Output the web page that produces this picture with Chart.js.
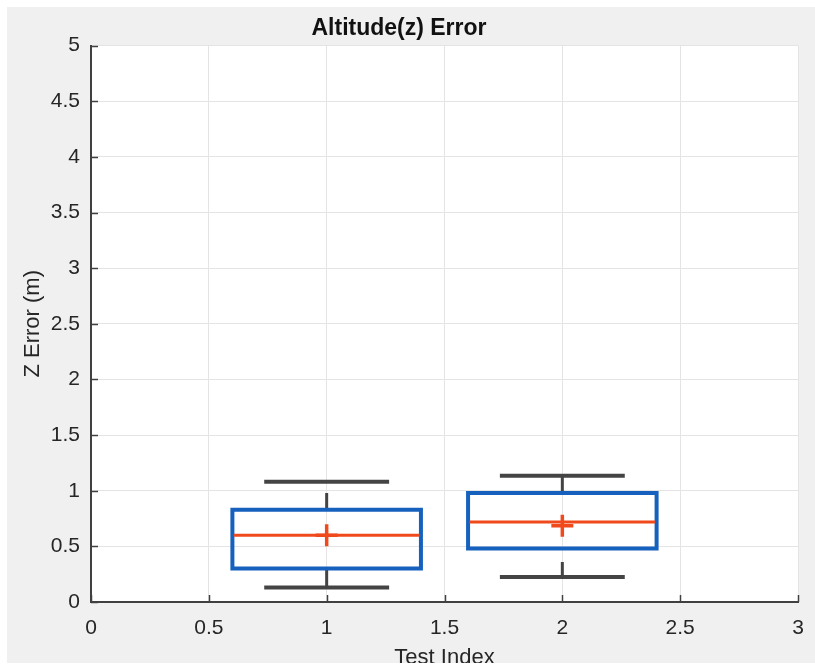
<!DOCTYPE html>
<html>
<head>
<meta charset="utf-8">
<title>Altitude(z) Error</title>
<script src="https://cdn.jsdelivr.net/npm/chart.js@4.4.1/dist/chart.umd.min.js"></script>
<style>
  html, body { margin: 0; padding: 0; background: #ffffff; }
  #wrap { width: 815px; height: 667px; }
</style>
</head>
<body>
<div id="wrap"><canvas id="altChart" width="815" height="667"></canvas></div>
<script>
// Datos de las pruebas
const testIndex = [1, 2];
const q1Values = [0.30, 0.48];
const q3Values = [0.83, 0.98];
const medianValues = [0.60, 0.72];
const meanValues = [0.60, 0.685];
const capLow = [0.13, 0.225];
const capHigh = [1.08, 1.135];
const upperStemTop = [0.98, 1.135];
const lowerStemTop = [0.30, 0.36];
const xTickLabels = ['0', '0.5', '1', '1.5', '2', '2.5', '3'];
const yTickLabels = ['0', '0.5', '1', '1.5', '2', '2.5', '3', '3.5', '4', '4.5', '5'];

// Estilos
const BOX_HALF = 0.4;
const CAP_HALF = 0.265;
const BLUE = '#1660BE';
const ORANGE = '#F04A1C';
const DARK = '#444444';
const TEXT = '#262626';

function seg(x1, y1, x2, y2) {
    return [{ x: x1, y: y1 }, { x: x2, y: y2 }];
}

function lineSet(data, color, width, order, cap) {
    return {
        type: 'scatter',
        data: data,
        showLine: true,
        borderColor: color,
        backgroundColor: color,
        borderWidth: width,
        pointRadius: 0,
        pointHoverRadius: 0,
        borderCapStyle: cap || 'butt',
        borderJoinStyle: 'miter',
        order: order
    };
}

const datasets = [];

testIndex.forEach((t, i) => {
    // caja
    datasets.push(lineSet([
        { x: t - BOX_HALF, y: q1Values[i] },
        { x: t + BOX_HALF, y: q1Values[i] },
        { x: t + BOX_HALF, y: q3Values[i] },
        { x: t - BOX_HALF, y: q3Values[i] },
        { x: t - BOX_HALF, y: q1Values[i] }
    ], BLUE, 4, 3, 'square'));
    // bigotes
    datasets.push(lineSet(seg(t, q3Values[i], t, upperStemTop[i]), DARK, 3, 4));
    datasets.push(lineSet(seg(t, capLow[i], t, lowerStemTop[i]), DARK, 3, 4));
    datasets.push(lineSet(seg(t - CAP_HALF, capHigh[i], t + CAP_HALF, capHigh[i]), DARK, 4, 4));
    datasets.push(lineSet(seg(t - CAP_HALF, capLow[i], t + CAP_HALF, capLow[i]), DARK, 4, 4));
    // mediana
    datasets.push(lineSet(seg(t - BOX_HALF + 0.006, medianValues[i], t + BOX_HALF - 0.006, medianValues[i]), ORANGE, 3, 2));
});

// medias
datasets.push({
    type: 'scatter',
    data: testIndex.map((t, i) => ({ x: t, y: meanValues[i] })),
    pointStyle: 'cross',
    pointRadius: 11,
    pointHoverRadius: 11,
    pointBorderWidth: 3.5,
    borderColor: ORANGE,
    backgroundColor: ORANGE,
    showLine: false,
    order: 1
});

// Fondo estilo MATLAB
const backgroundPlugin = {
    id: 'matlabBackground',
    beforeDraw(chart) {
        const ctx = chart.ctx;
        const a = chart.chartArea;
        ctx.save();
        ctx.fillStyle = '#ffffff';
        ctx.fillRect(0, 0, chart.width, chart.height);
        ctx.fillStyle = '#f0f0f0';
        ctx.fillRect(7, 7, chart.width - 7, chart.height - 7);
        ctx.fillStyle = '#ffffff';
        ctx.fillRect(a.left, a.top, a.right - a.left, a.bottom - a.top);
        ctx.restore();
    },
    afterDraw(chart) {
        const ctx = chart.ctx;
        const a = chart.chartArea;
        const xs = chart.scales.x;
        const ys = chart.scales.y;
        ctx.save();
        ctx.strokeStyle = '#404040';
        ctx.lineWidth = 1.5;
        // ticks hacia dentro
        xs.ticks.forEach(tk => {
            const px = Math.round(xs.getPixelForValue(tk.value)) + 0.5;
            ctx.beginPath();
            ctx.moveTo(px, a.bottom);
            ctx.lineTo(px, a.bottom - 7);
            ctx.stroke();
        });
        ys.ticks.forEach(tk => {
            const py = Math.round(ys.getPixelForValue(tk.value)) + 0.5;
            ctx.beginPath();
            ctx.moveTo(a.left, py);
            ctx.lineTo(a.left + 7, py);
            ctx.stroke();
        });
        // franja blanca inferior
        ctx.fillStyle = '#ffffff';
        ctx.fillRect(0, chart.height - 4, chart.width, 4);
        ctx.restore();
    }
};

const ctx = document.getElementById('altChart').getContext('2d');
const altChart = new Chart(ctx, {
    type: 'scatter',
    data: { datasets: datasets },
    options: {
        responsive: false,
        animation: false,
        events: [],
        layout: { padding: { left: 0, right: 17, top: 0, bottom: 0 } },
        plugins: {
            legend: { display: false },
            tooltip: { enabled: false },
            title: {
                display: true,
                text: 'Altitude(z) Error',
                color: '#111111',
                font: { family: '"Liberation Sans", Arial, sans-serif', size: 23, weight: 'bold' },
                padding: { top: 15, bottom: 3 }
            }
        },
        scales: {
            x: {
                type: 'linear',
                min: 0,
                max: 3,
                afterFit(scale) {
                    scale.height = 65;
                    scale.paddingLeft = 0;
                    scale.paddingRight = 0;
                },
                afterBuildTicks(scale) {
                    scale.ticks = xTickLabels.map(v => ({ value: parseFloat(v) }));
                },
                ticks: {
                    callback: (v, i) => xTickLabels[i],
                    color: TEXT,
                    font: { family: '"Liberation Sans", Arial, sans-serif', size: 21 },
                    padding: 14,
                    maxRotation: 0
                },
                grid: { color: '#e4e4e4', lineWidth: 1, drawTicks: false },
                border: { color: '#404040', width: 2 },
                title: {
                    display: true,
                    text: 'Test Index',
                    color: TEXT,
                    font: { family: '"Liberation Sans", Arial, sans-serif', size: 22 },
                    padding: { top: 0, bottom: -4 }
                }
            },
            y: {
                type: 'linear',
                min: 0,
                max: 5,
                afterFit(scale) {
                    scale.width = 91;
                    scale.paddingTop = 0;
                    scale.paddingBottom = 0;
                },
                afterBuildTicks(scale) {
                    scale.ticks = yTickLabels.map(v => ({ value: parseFloat(v) }));
                },
                ticks: {
                    callback: (v, i) => yTickLabels[i],
                    color: TEXT,
                    font: { family: '"Liberation Sans", Arial, sans-serif', size: 21 },
                    padding: 11
                },
                grid: { color: '#e4e4e4', lineWidth: 1, drawTicks: false },
                border: { color: '#404040', width: 2 },
                title: {
                    display: true,
                    text: 'Z Error (m)',
                    color: TEXT,
                    font: { family: '"Liberation Sans", Arial, sans-serif', size: 22 },
                    padding: { top: 20, bottom: 0 }
                }
            }
        }
    },
    plugins: [backgroundPlugin]
});
</script>
</body>
</html>
